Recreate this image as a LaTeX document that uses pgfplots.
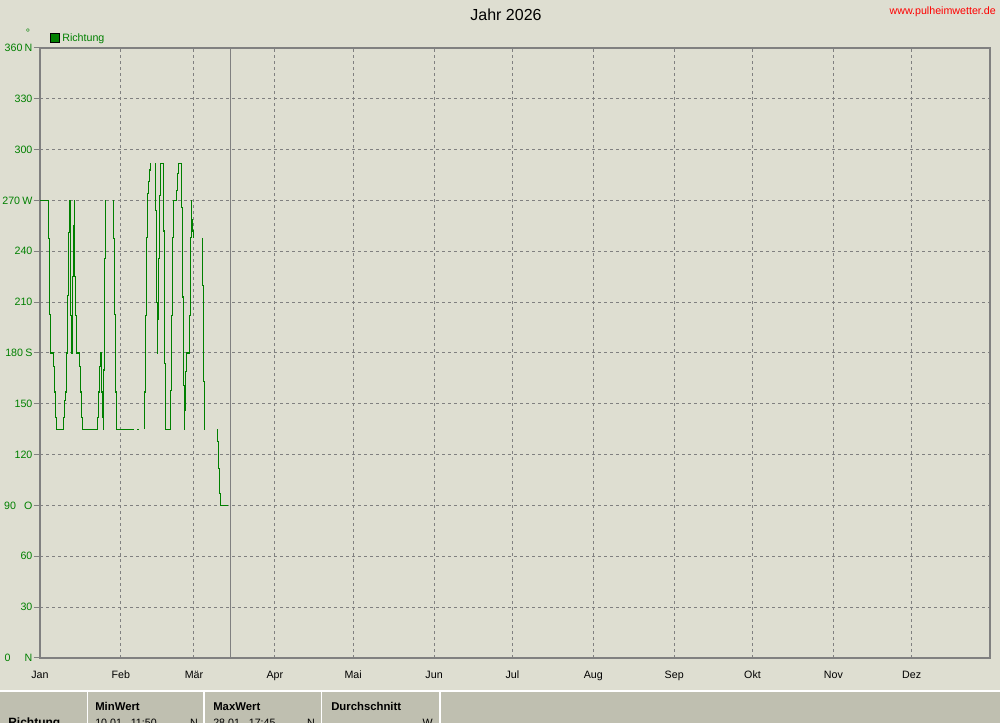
\documentclass[border=0pt]{standalone}
\usepackage{pgfplots}
\pgfplotsset{compat=1.18}
\usepackage{fontspec}
\setmainfont{Liberation Sans}
\definecolor{bgc}{RGB}{222,222,209}
\definecolor{tabc}{RGB}{191,191,176}
\definecolor{gg}{RGB}{128,128,128}
\definecolor{dg}{RGB}{0,128,0}
\newcommand{\dl}[2]{\makebox[15pt][l]{#1}#2}
\newcommand{\fs}{\fontsize{8pt}{9.6pt}\selectfont}
\begin{document}
\begin{tikzpicture}
\fill[bgc] (0,0) rectangle (750pt,542.25pt);
\begin{axis}[
  at={(30pt,48.75pt)}, anchor=south west,
  width=712.5pt, height=457.5pt, scale only axis,
  xmin=0, xmax=364, ymin=0, ymax=360,
  axis line style={draw=gg, line width=1.5pt},
  grid=major,
  grid style={draw=gg, line width=0.75pt, dash pattern=on 2.25pt off 2.25pt},
  xtick={0,31,59,90,120,151,181,212,243,273,304,334},
  xticklabels={Jan,Feb,Mär,Apr,Mai,Jun,Jul,Aug,Sep,Okt,Nov,Dez},
  ytick={0,30,...,360},
  yticklabels={\dl{0}{N},30,60,\dl{90}{O},120,150,\dl{180}{S},210,240,\dl{270}{W},300,330,\dl{360}{N}},
  /pgf/number format/assume math mode=true,
  tick align=outside,
  ytick pos=left,
  xtick pos=bottom,
  major tick length=4.5pt,
  xtick style={draw=none},
  ytick style={draw=gg, line width=0.75pt},
  yticklabel style={text=dg, font=\fs, inner sep=1pt},
  xticklabel style={text=black, font=\fs, anchor=north, text height=6pt, text depth=2pt, inner sep=0pt, yshift=-4.5pt},
  legend style={at={(0,1)}, anchor=south west, xshift=7pt, yshift=1.5pt,
    draw=none, fill=none, inner sep=0pt, font=\fs},
  legend image code/.code={\draw[fill=dg, draw=black, line width=0.75pt] (0pt,-3.4pt) rectangle (6.8pt,3.4pt);},
  legend cell align=left,
  clip=false,
]
% current date marker
\addplot[gg, line width=0.75pt, forget plot] coordinates {(73.18,0) (73.18,360)};
\addplot[dg, line width=0.9pt, const plot] coordinates {
(0,270) (3.18,247.5) (3.56,202.5) (4.10,180) (5.10,172) (5.48,157) (6.01,142) (6.40,135)
(8.93,142) (9.46,152) (9.85,157) (10.08,180) (10.46,214) (10.85,251) (11.23,270)
(11.61,202) (12.00,180) (12.38,225) (12.76,255) (13.14,270) (13.26,225) (13.69,202)
(14.07,180) (15.07,172) (15.60,157) (15.99,142) (16.37,135)
(21.96,142) (22.34,157) (22.72,172) (23.11,180) (23.48,157) (23.87,142) (24.25,135)
(24.38,170) (24.64,236) (25.02,270)
};
\addlegendentry{\textcolor{dg}{Richtung}}
\addplot[dg, line width=0.9pt, const plot, forget plot] coordinates {
(28.08,270) (28.08,247.5) (28.47,202.5) (28.85,157) (29.24,135) (36.02,135)
};
\addplot[dg, line width=0.9pt, const plot, forget plot] coordinates {
(37.17,135) (37.93,135)
};
\addplot[dg, line width=0.9pt, const plot, forget plot] coordinates {
(39.96,135) (39.96,157) (40.35,202) (40.73,248) (41.12,274) (41.50,281) (41.87,288)
(42.26,292) (42.64,292)
};
\addplot[dg, line width=0.9pt, const plot, forget plot] coordinates {
(44.18,292) (44.18,264) (44.56,210) (44.95,180) (45.08,200) (45.32,236) (45.71,273)
(46.09,292) (47.24,252) (47.63,174) (48.01,135) (49.92,158) (50.31,202) (50.69,248)
(51.08,270) (52.23,276) (52.60,286) (52.99,292) (54.10,266) (54.52,213) (54.91,161)
(55.29,135) (55.48,146) (55.68,169) (56.05,180) (57.20,202) (57.59,248) (57.97,270)
(58.16,259) (58.36,252) (58.74,248) (59.01,248)
};
\addplot[dg, line width=0.9pt, const plot, forget plot] coordinates {
(62.19,248) (62.19,220) (62.57,163) (62.96,135) (63.13,135)
};
\addplot[dg, line width=0.9pt, const plot, forget plot] coordinates {
(67.93,135) (67.93,128) (68.32,112) (68.70,97) (69.08,90) (72.15,90)
};
\end{axis}
% degree sign
\node[anchor=base, inner sep=0pt, text=dg, font=\fs] at (21pt,514.5pt) {°};
% title and url
\node[anchor=base, inner sep=0pt] at (379.5pt,526.5pt) {\fontsize{12pt}{14pt}\selectfont Jahr 2026};
\node[anchor=base east, inner sep=0pt, text=red, font=\fs] at (747pt,531pt) {www.pulheimwetter.de};
% bottom table
\fill[tabc] (0,-5pt) rectangle (750pt,24pt);
\draw[white, line width=1pt] (0,24pt) -- (750pt,24pt);
\foreach \xx in {65.5pt,153pt,241.3pt,330pt}{\draw[white, line width=1pt] (\xx,-5pt) -- (\xx,24pt);}
\node[anchor=base west, inner sep=0pt] at (6pt,-3pt) {\fontsize{9pt}{10pt}\selectfont\bfseries Richtung};
\node[anchor=base west, inner sep=0pt] at (71.25pt,9pt) {\fontsize{8.5pt}{10pt}\selectfont\bfseries MinWert};
\node[anchor=base west, inner sep=0pt] at (159.75pt,9pt) {\fontsize{8.5pt}{10pt}\selectfont\bfseries MaxWert};
\node[anchor=base west, inner sep=0pt] at (248.25pt,9pt) {\fontsize{8.5pt}{10pt}\selectfont\bfseries Durchschnitt};
\node[anchor=base west, inner sep=0pt, font=\fs] at (71.25pt,-2.5pt) {10.01.\ \ 11:50};
\node[anchor=base east, inner sep=0pt, font=\fs] at (148.5pt,-2.5pt) {N};
\node[anchor=base west, inner sep=0pt, font=\fs] at (159.75pt,-2.5pt) {28.01.\ \ 17:45};
\node[anchor=base east, inner sep=0pt, font=\fs] at (236.25pt,-2.5pt) {N};
\node[anchor=base east, inner sep=0pt, font=\fs] at (324.75pt,-2.5pt) {W};
\pgfresetboundingbox
\useasboundingbox (0,0) rectangle (750pt,542.25pt);
\end{tikzpicture}
\end{document}
